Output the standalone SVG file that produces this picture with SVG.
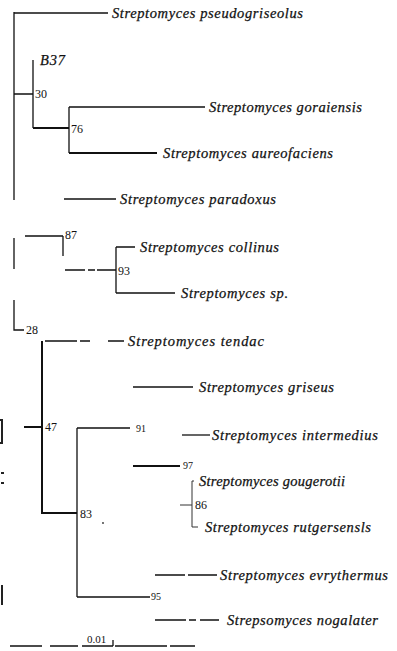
<svg xmlns="http://www.w3.org/2000/svg" width="397" height="651" viewBox="0 0 397 651">
<style>
.br{stroke:#111;stroke-width:1.3;fill:none;stroke-linecap:butt}
.thk{stroke-width:2}
.thn{stroke-width:1;stroke:#333}
text{font-family:"Liberation Serif","Times New Roman","DejaVu Serif",serif;fill:#111}
.tx{font-style:italic;font-size:14.5px;stroke:#111;stroke-width:0.25}
.bs{font-size:12px}
.sm{font-size:10px}
.art{stroke:#222;stroke-width:2;fill:none}
</style>
<rect width="397" height="651" fill="#fff"/>
<g id="connectors">
<path class="br" d="M14 12V200M14 238V269M14 300V330H24"/>
<path class="br" d="M14 13H108"/>
<path class="br" d="M14 94H33M33 60V128"/>
<path class="br thk" d="M33 128H69"/>
<path class="br" d="M69 107V153M69 107H205"/>
<path class="br thk" d="M69 153H157"/>
<path class="br" d="M64 199H116"/>
<path class="br" d="M25 236H63M63 236V256"/>
<path class="br" d="M65 270H85M88 270H95M97 270H116"/>
<path class="br" d="M116 247V293M116 247H135M116 293H175"/>
<path class="br" d="M45 341H77M80 341H90M108 341H124"/>
<path class="br thk" d="M42 341V513H77M24 427H42"/>
<path class="br" d="M77 428V597M77 428H130M77 597H150"/>
<path class="br" d="M133 387H193"/>
<path class="br" d="M182 435H210"/>
<path class="br thk" d="M133 466H180"/>
<path class="br thn" d="M192 481V527H198M180 505H192M192 481H194"/>
<path class="br" d="M155 575H185M188 575H217"/>
<path class="br" d="M155 620H186M189 620H196M200 620H219"/>
</g>
<g id="scale">
<path class="br" d="M10 646H42M50 646H78M82 646H113M115 646H167M170 646H195M113 640V646"/>
<text x="87" y="643" font-size="11">0.01</text>
</g>
<g id="n-pseudogriseolus"><text class="tx" x="112" y="18" textLength="191">Streptomyces  pseudogriseolus</text></g>
<g id="n-B37"><text class="tx" x="40" y="65" textLength="25">B37</text></g>
<g id="node30"><text class="bs" x="35" y="98">30</text></g>
<g id="n-goraiensis"><text class="tx" x="209" y="112" textLength="153">Streptomyces  goraiensis</text></g>
<g id="node76"><text class="bs" x="71" y="133">76</text></g>
<g id="n-aureofaciens"><text class="tx" x="163" y="158" textLength="170">Streptomyces  aureofaciens</text></g>
<g id="n-paradoxus"><text class="tx" x="120" y="204" textLength="156">Streptomyces  paradoxus</text></g>
<g id="node87"><text class="bs" x="65" y="239">87</text></g>
<g id="n-collinus"><text class="tx" x="140" y="252" textLength="139">Streptomyces  collinus</text></g>
<g id="node93"><text class="bs" x="118" y="275">93</text></g>
<g id="n-sp"><text class="tx" x="181" y="298" textLength="107">Streptomyces  sp.</text></g>
<g id="node28"><text class="bs" x="26" y="334">28</text></g>
<g id="n-tendac"><text class="tx" x="128" y="346" textLength="136">Streptomyces  tendac</text></g>
<g id="n-griseus"><text class="tx" x="199" y="392" textLength="135">Streptomyces  griseus</text></g>
<g id="node47"><text class="bs" x="45" y="431">47</text></g>
<g id="node91"><text class="sm" x="136" y="432">91</text></g>
<g id="n-intermedius"><text class="tx" x="212" y="440" textLength="166">Streptomyces  intermedius</text></g>
<g id="node97"><text class="sm" x="183" y="469">97</text></g>
<g id="n-gougerotii"><text class="tx" x="199" y="486" textLength="146">Streptomyces  gougerotii</text></g>
<g id="node86"><text class="bs" x="195" y="509">86</text></g>
<g id="node83"><text class="bs" x="80" y="518">83</text></g>
<g id="n-rutgersensls"><text class="tx" x="205" y="532" textLength="166">Streptomyces  rutgersensls</text></g>
<g id="n-evrythermus"><text class="tx" x="220" y="580" textLength="168">Streptomyces  evrythermus</text></g>
<g id="node95"><text class="sm" x="151" y="600" font-size="9">95</text></g>
<g id="n-nogalater"><text class="tx" x="227" y="625" textLength="151">Strepsomyces  nogalater</text></g>
<g id="edge-marks">
<path class="art" d="M2 420V443M0 420H3M0 443H3M1 473H4M1 483H4M2 585V605"/>
<circle cx="103" cy="523" r="0.9" fill="#333"/>
</g>
</svg>
